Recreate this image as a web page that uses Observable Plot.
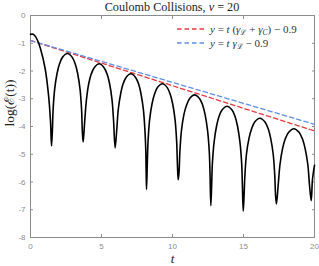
<!DOCTYPE html>
<html><head><meta charset="utf-8">
<script src="https://cdn.jsdelivr.net/npm/d3@7"></script>
<script src="https://cdn.jsdelivr.net/npm/@observablehq/plot@0.6"></script>
<style>body{margin:0;background:#fff}</style>
</head><body><div id="chart"></div>
<script>
const titleParts = [["Coulomb Collisions, ",""],["\u03bd","i"],[" = 20",""]];
const xLabel = "t";
const yLabel = "log(\u2130(t))";

const tValues = [
  0, 0.15, 0.28, 0.5, 0.70, 1.03, 1.27, 1.41, 1.48,
  1.54, 1.59, 1.70, 1.87, 2.04, 2.26, 2.60, 2.93, 3.15, 3.32, 3.49, 3.60, 3.65, 3.71,
  3.82, 3.94, 4.10, 4.27, 4.50, 4.84, 5.17, 5.40, 5.57, 5.74, 5.85, 5.96,
  6.07, 6.18, 6.35, 6.51, 6.73, 7.07, 7.40, 7.62, 7.78, 7.95, 8.06, 8.12, 8.17,
  8.23, 8.28, 8.39, 8.56, 8.73, 8.95, 9.29, 9.62, 9.84, 10.01, 10.18, 10.29, 10.34, 10.40,
  10.46, 10.52, 10.63, 10.80, 10.98, 11.21, 11.55, 11.90, 12.13, 12.30, 12.47, 12.59, 12.64, 12.70,
  12.76, 12.81, 12.93, 13.10, 13.27, 13.50, 13.84, 14.18, 14.41, 14.58, 14.75, 14.87, 14.92, 14.98,
  15.04, 15.10, 15.21, 15.39, 15.57, 15.80, 16.15, 16.50, 16.74, 16.91, 17.09, 17.20, 17.26, 17.32,
  17.44, 17.57, 17.75, 17.93, 18.18, 18.55, 18.91, 19.16, 19.34, 19.53, 19.65, 19.77,
  19.85, 19.93, 20.00
];
const logE = [
  -0.68, -0.67, -0.71, -0.90, -1.19, -1.91, -2.87, -3.83, -4.70,
  -4.17, -3.42, -2.66, -2.09, -1.75, -1.50, -1.37, -1.50, -1.75, -2.09, -2.66, -3.42, -4.17, -4.56,
  -3.79, -3.03, -2.46, -2.12, -1.87, -1.74, -1.87, -2.12, -2.46, -3.03, -3.79, -4.77,
  -4.15, -3.39, -2.82, -2.48, -2.23, -2.10, -2.23, -2.48, -2.82, -3.39, -4.15, -4.90, -6.27,
  -5.26, -4.51, -3.75, -3.18, -2.84, -2.59, -2.46, -2.59, -2.84, -3.18, -3.75, -4.51, -5.26, -5.92,
  -5.66, -4.91, -4.15, -3.58, -3.24, -2.99, -2.86, -2.99, -3.24, -3.58, -4.15, -4.91, -5.66, -6.85,
  -6.07, -5.32, -4.56, -3.99, -3.65, -3.40, -3.27, -3.40, -3.65, -3.99, -4.56, -5.32, -6.07, -7.05,
  -6.50, -5.75, -4.99, -4.42, -4.08, -3.83, -3.70, -3.83, -4.08, -4.42, -4.99, -5.75, -6.50, -6.79,
  -6.13, -5.37, -4.80, -4.46, -4.21, -4.08, -4.21, -4.46, -4.80, -5.37, -6.13, -6.67,
  -5.95, -5.62, -5.40
];

const fitT = [0, 20];
const fitRed = [-0.9, -4.16];
const fitBlue = [-0.9, -3.92];

const xTicks = [0, 5, 10, 15, 20];
const yTicks = [0, -1, -2, -3, -4, -5, -6, -7, -8];

// legend: [text, style] parts
const legendRed = [["y","i"],[" = ",""],["t","i"],[" (",""],["\u03b3","i"],["\u2112","sub"],[" + ",""],["\u03b3","i"],["C","subi"],[") \u2212 0.9",""]];
const legendBlue = [["y","i"],[" = ",""],["t","i"],[" ",""],["\u03b3","i"],["\u2112","sub"],[" \u2212 0.9",""]];

const redColor = "#e8393f";
const blueColor = "#5f8fe6";
const axisColor = "#8c8c8c";
const serif = "'Liberation Serif', 'DejaVu Serif', serif";

const curve = tValues.map((t, i) => ({t, y: logE[i]}));
const red = fitT.map((t, i) => ({t, y: fitRed[i]}));
const blue = fitT.map((t, i) => ({t, y: fitBlue[i]}));

function richText(sel, parts) {
  let shifted = false;
  parts.forEach(([s, st]) => {
    const ts = sel.append("tspan").text(s);
    const isSub = st === "sub" || st === "subi";
    if (st === "i" || st === "subi") ts.attr("font-style", "italic");
    if (isSub) { ts.attr("font-size", 7.5).attr("dy", 2.5); shifted = true; }
    else if (shifted) { ts.attr("dy", -2.5); shifted = false; }
  });
}

function legendMark(index, scales, values, dims) {
  const g = d3.create("svg:g");
  const right = dims.width - dims.marginRight;
  const x0 = right - 137;
  const rows = [[redColor, legendRed], [blueColor, legendBlue]];
  rows.forEach(([c, parts], k) => {
    const y = dims.marginTop + 14 + 14 * k;
    g.append("line").attr("x1", x0).attr("x2", x0 + 30).attr("y1", y).attr("y2", y)
      .attr("stroke", c).attr("stroke-width", 1.3).attr("stroke-dasharray", "4.5,3");
    const txt = g.append("text").attr("x", x0 + 33).attr("y", y + 3.8)
      .attr("text-anchor", "start")
      .attr("font-family", serif).attr("font-size", 11).attr("fill", "#333");
    richText(txt, parts);
  });
  return g.node();
}

function titleMark(index, scales, values, dims) {
  const g = d3.create("svg:g");
  const cx = (dims.marginLeft + dims.width - dims.marginRight) / 2;
  const txt = g.append("text").attr("x", cx).attr("y", 11)
    .attr("text-anchor", "middle").attr("font-family", serif)
    .attr("font-size", 12.2).attr("fill", "#222");
  richText(txt, titleParts);
  return g.node();
}

const chart = Plot.plot({
  width: 319,
  height: 266,
  marginTop: 15,
  marginRight: 5,
  marginBottom: 29,
  marginLeft: 30,
  x: {domain: [0, 20]},
  y: {domain: [-8, 0]},
  style: {fontFamily: "'Liberation Sans', sans-serif", fontSize: "8px", background: "white", overflow: "visible"},
  marks: [
    Plot.axisX({ticks: xTicks, tickSize: -3, tickPadding: 9, stroke: axisColor, fill: axisColor, tickFormat: d => String(d), label: null}),
    Plot.axisX({ticks: xTicks, anchor: "top", tickSize: -3, stroke: axisColor, text: null, label: null}),
    Plot.axisY({ticks: yTicks, tickSize: -3, tickPadding: 8, stroke: axisColor, fill: axisColor, tickFormat: d => String(d), label: null}),
    Plot.axisY({ticks: yTicks, anchor: "right", tickSize: -3, stroke: axisColor, text: null, label: null}),
    Plot.frame({stroke: axisColor}),
    Plot.line(red, {x: "t", y: "y", stroke: redColor, strokeWidth: 1.3, strokeDasharray: "4.5,3"}),
    Plot.line(blue, {x: "t", y: "y", stroke: blueColor, strokeWidth: 1.3, strokeDasharray: "4.5,3"}),
    Plot.line(curve, {x: "t", y: "y", stroke: "black", strokeWidth: 1.6, curve: "catmull-rom"}),
    legendMark,
    titleMark,
    Plot.text([xLabel], {frameAnchor: "bottom", dy: 25, fontFamily: serif, fontSize: 13, fontStyle: "italic", fill: "#222"}),
    Plot.text([yLabel], {frameAnchor: "left", dx: -21, rotate: -90, fontFamily: serif, fontSize: 13.5, fill: "#222"})
  ]
});
document.getElementById("chart").appendChild(chart);
</script>
</body></html>
